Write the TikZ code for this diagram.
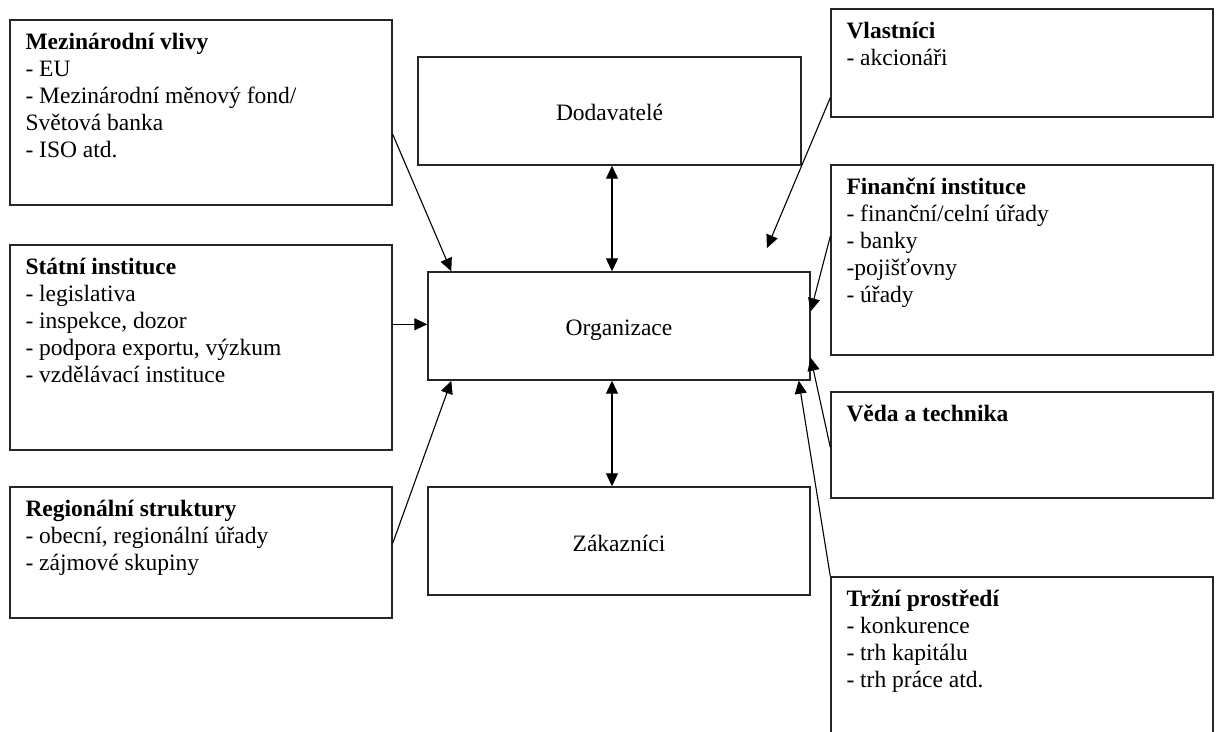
\documentclass[tikz,border=0pt]{standalone}
\usepackage{fontspec}
\setmainfont{Liberation Serif}
\usetikzlibrary{arrows.meta,calc}

\tikzset{
  box/.style={draw=black!85, line width=1.4pt, rectangle, inner sep=0pt, fill=white},
  body/.style={anchor=north west, inner sep=0pt, align=left,
    font=\fontsize{23.5}{27}\selectfont},
  midtext/.style={anchor=base, inner sep=0pt, font=\fontsize{23.5}{27}\selectfont},
  tip/.tip={Triangle[length=13pt,width=12pt]},
  link/.style={line width=1.1pt, -tip},
  twoway/.style={line width=1.1pt, tip-tip}
}

% rectangle given by its corners (pixels, y downward)
\newcommand{\boxat}[5]{%
  \node[box, minimum width={#4-#2}, minimum height={#5-#3}] (#1) at ({(#2+#4)/2},{(#3+#5)/2}) {};}

\begin{document}
\begin{tikzpicture}[x=1pt,y=-1pt]
\useasboundingbox (0,0) rectangle (1218,731);
\clip (0,0) rectangle (1218,731);

% left column
\boxat{mv}{10}{20}{392}{205}
\boxat{si}{10}{245}{392}{450}
\boxat{rs}{10}{487}{392}{618}
% middle column
\boxat{dod}{418}{57}{801}{165}
\boxat{org}{428}{272}{810}{380}
\boxat{zak}{428}{487}{810}{595}
% right column
\boxat{vl}{831}{9}{1213}{117}
\boxat{fi}{831}{165}{1213}{355}
\boxat{vt}{831}{392}{1213}{498}
\boxat{tp}{831}{577}{1213}{780}

% box texts
\node[body] (mvt) at ($(mv.north west)+(16,11.5)$) {\strut\textbf{Mezinárodní vlivy}\\- EU\\- Mezinárodní měnový fond/\\Světová banka\\- ISO atd.};
\node[body] (sit) at ($(si.north west)+(16,11.5)$) {\strut\textbf{Státní instituce}\\- legislativa\\- inspekce, dozor\\- podpora exportu, výzkum\\- vzdělávací instituce};
\node[body] (rst) at ($(rs.north west)+(16,11.5)$) {\strut\textbf{Regionální struktury}\\- obecní, regionální úřady\\- zájmové skupiny};
\node[body] (vlt) at ($(vl.north west)+(16,11.5)$) {\strut\textbf{Vlastníci}\\- akcionáři};
\node[body] (fit) at ($(fi.north west)+(16,11.5)$) {\strut\textbf{Finanční instituce}\\- finanční/celní úřady\\- banky\\-pojišťovny\\- úřady};
\node[body] (vtt) at ($(vt.north west)+(16,11.5)$) {\strut\textbf{Věda a technika}};
\node[body] (tpt) at ($(tp.north west)+(16,11.5)$) {\strut\textbf{Tržní prostředí}\\- konkurence\\- trh kapitálu\\- trh práce atd.};

\node[midtext] (dodt) at ($(dod.center)+(0,9)$) {Dodavatelé};
\node[midtext] (orgt) at ($(org.center)+(0,9.5)$) {Organizace};
\node[midtext] (zakt) at ($(zak.center)+(0,10)$) {Zákazníci};

% connectors
\coordinate (vx) at (612,0);
\coordinate (vlend) at (767,248);
\draw[twoway] (dod.south -| vx) -- (org.north -| vx);
\draw[twoway] (org.south -| vx) -- (zak.north -| vx);
\draw[link] ($(mv.north east)+(0,115)$) -- ($(org.north west)+(24,0)$);
\draw[link] ($(si.north east)+(0,80)$) -- ($(org.north west)+(0,53)$);
\draw[link] ($(rs.north east)+(0,57)$) -- ($(org.south west)+(24,0)$);
\draw[link] ($(vl.south west)+(0,-20)$) -- (vlend);
\draw[link] ($(fi.north west)+(0,72)$) -- ($(org.north east)+(0,40)$);
\draw[link] ($(vt.north west)+(0,56)$) -- ($(org.south east)+(0,-23)$);
\draw[link] (tp.north west) -- ($(org.south east)+(-12,0)$);
\end{tikzpicture}
\end{document}
